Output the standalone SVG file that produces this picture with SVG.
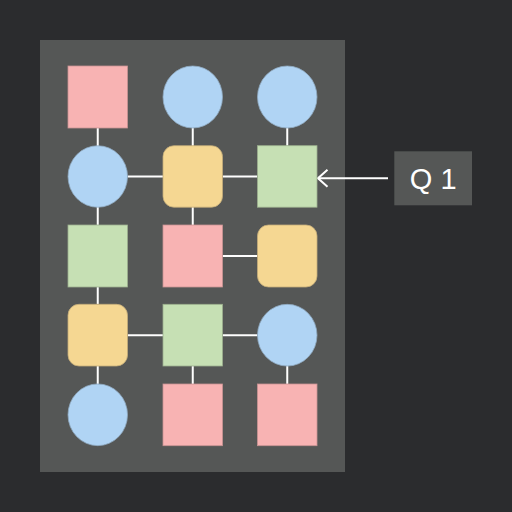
<svg xmlns="http://www.w3.org/2000/svg" width="512" height="512" viewBox="0 0 512 512">
<defs>
<style>
.pink{fill:#f8b3b3;stroke:#c99393;stroke-width:0.8}
.blue{fill:#b0d4f4;stroke:#8fa9c0;stroke-width:0.8}
.yellow{fill:#f5d792;stroke:#c4ac78;stroke-width:0.8}
.green{fill:#c6e0b4;stroke:#9cb08e;stroke-width:0.8}
.edge{stroke:#ffffff;stroke-width:2;fill:none}
.lbl{font-family:"Liberation Sans",Arial,sans-serif;font-size:29px;fill:#ffffff}
</style>
<marker id="arr" viewBox="0 0 12 20" refX="10.5" refY="10" markerWidth="12" markerHeight="20" markerUnits="userSpaceOnUse" orient="auto">
<path d="M1 1.5 L10.5 10 L1 18.5" fill="none" stroke="#ffffff" stroke-width="2"/>
</marker>
</defs>
<rect width="512" height="512" fill="#2b2c2e"/>
<rect x="40" y="40" width="305" height="432" fill="#555756"/>
<g id="connectors">
<line class="edge" x1="97.75" y1="128" x2="97.75" y2="146"/>
<line class="edge" x1="192.75" y1="128" x2="192.75" y2="146"/>
<line class="edge" x1="287.25" y1="128" x2="287.25" y2="146"/>
<line class="edge" x1="127.5" y1="176.5" x2="163" y2="176.5"/>
<line class="edge" x1="222.5" y1="176.5" x2="257.5" y2="176.5"/>
<line class="edge" x1="97.75" y1="207" x2="97.75" y2="225"/>
<line class="edge" x1="192.75" y1="207" x2="192.75" y2="225"/>
<line class="edge" x1="222.5" y1="256" x2="257.5" y2="256"/>
<line class="edge" x1="97.75" y1="287" x2="97.75" y2="304.5"/>
<line class="edge" x1="127.5" y1="335.3" x2="163" y2="335.3"/>
<line class="edge" x1="222.5" y1="335.3" x2="257.5" y2="335.3"/>
<line class="edge" x1="97.75" y1="366" x2="97.75" y2="384"/>
<line class="edge" x1="192.75" y1="366" x2="192.75" y2="384"/>
<line class="edge" x1="287.25" y1="366" x2="287.25" y2="384"/>
<line class="edge" x1="388" y1="178.3" x2="318" y2="178.3" marker-end="url(#arr)"/>
</g>
<g id="n-r1c1"><rect class="pink" x="68" y="66" width="59.5" height="62"/></g>
<g id="n-r1c2"><ellipse class="blue" cx="192.75" cy="97" rx="29.75" ry="31"/></g>
<g id="n-r1c3"><ellipse class="blue" cx="287.25" cy="97" rx="29.75" ry="31"/></g>
<g id="n-r2c1"><ellipse class="blue" cx="97.75" cy="176.5" rx="29.75" ry="30.75"/></g>
<g id="n-r2c2"><rect class="yellow" x="163" y="145.7" width="59.5" height="61.5" rx="11"/></g>
<g id="n-r2c3"><rect class="green" x="257.5" y="145.7" width="59.5" height="61.5"/></g>
<g id="n-r3c1"><rect class="green" x="68" y="225" width="59.5" height="62"/></g>
<g id="n-r3c2"><rect class="pink" x="163" y="225" width="59.5" height="62"/></g>
<g id="n-r3c3"><rect class="yellow" x="257.5" y="225" width="59.5" height="62" rx="11"/></g>
<g id="n-r4c1"><rect class="yellow" x="68" y="304.3" width="59.5" height="61.7" rx="11"/></g>
<g id="n-r4c2"><rect class="green" x="163" y="304.3" width="59.5" height="61.7"/></g>
<g id="n-r4c3"><ellipse class="blue" cx="287.25" cy="335.2" rx="29.75" ry="30.85"/></g>
<g id="n-r5c1"><ellipse class="blue" cx="97.75" cy="414.8" rx="29.75" ry="30.85"/></g>
<g id="n-r5c2"><rect class="pink" x="163" y="384" width="59.5" height="61.7"/></g>
<g id="n-r5c3"><rect class="pink" x="257.5" y="384" width="59.5" height="61.7"/></g>
<g id="q1">
<rect x="394.3" y="151.3" width="77.7" height="54" fill="#555756"/>
<text class="lbl" x="433.2" y="188.8" text-anchor="middle">Q 1</text>
</g>
</svg>
